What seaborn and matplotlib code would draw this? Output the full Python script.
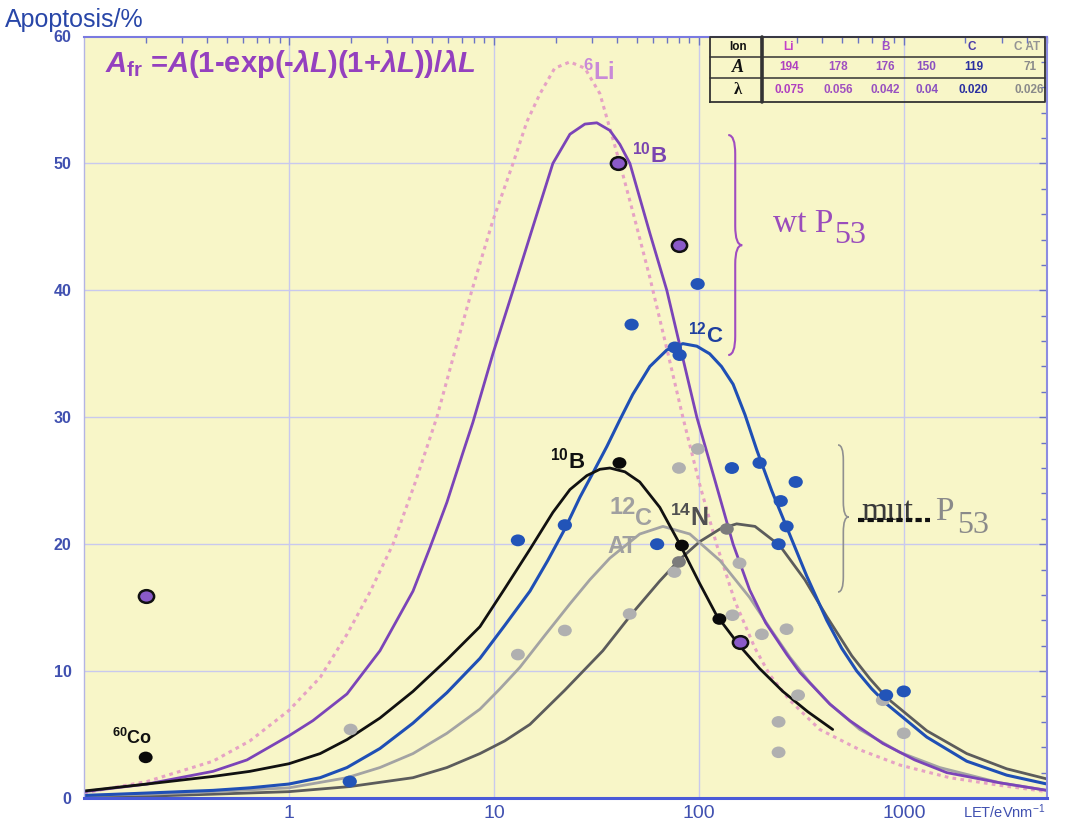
import numpy as np
import pandas as pd
import matplotlib
matplotlib.use("Agg")
import matplotlib.pyplot as plt
from matplotlib.path import Path
from matplotlib.patches import PathPatch
import seaborn as sns

# ---------------- data ----------------
# fitted curves: LET (eV/nm) and apoptosis (%)
wt_b_fit_let = [0.1, 0.203, 0.426, 0.624, 1.0, 1.31, 1.92, 2.78, 4.03, 4.87, 5.90, 7.06, 7.90, 9.89, 12.4, 15.5,
                19.4, 23.5, 27.8, 31.8, 36.8, 41.2, 46.1, 57.7, 69.8, 82.6, 97.8, 120, 147, 177, 212, 269, 311,
                436, 545, 790, 1131, 1621, 2940, 5000]
wt_b_fit_apo = [0.5, 1.1, 2.1, 3.0, 4.9, 6.1, 8.2, 11.6, 16.3, 19.7, 23.3, 27.2, 29.6, 35.0, 40.0, 45.0,
                50.0, 52.3, 53.1, 53.2, 52.6, 51.5, 50.0, 44.5, 40.0, 35.0, 30.0, 25.0, 20.0, 16.4, 13.8, 11.3, 9.9,
                7.4, 6.1, 4.3, 3.0, 2.0, 1.2, 0.6]

li_fit_let = [0.1, 0.203, 0.426, 0.645, 1.0, 1.42, 1.92, 2.48, 3.22, 4.12, 5.27, 6.45, 7.81, 9.89, 12.4, 14.5,
              16.8, 19.8, 23.5, 27.8, 32.9, 41.2, 48.7, 57.7, 69.8, 83.6, 101, 122, 150, 188, 222, 278, 389, 610,
              956, 1676, 2940, 5000]
li_fit_apo = [0.4, 1.3, 2.9, 4.5, 6.9, 9.5, 12.9, 16.2, 20.0, 24.8, 30.0, 35.2, 40.0, 45.5, 50.0, 53.3,
              55.5, 57.5, 58.0, 57.5, 55.5, 50.0, 45.6, 41.0, 35.4, 30.0, 24.7, 20.0, 15.5, 11.8, 9.7, 7.7, 5.4, 3.8,
              2.6, 1.6, 1.0, 0.5]

wt_c_fit_let = [0.1, 0.21, 0.426, 0.645, 1.0, 1.42, 1.92, 2.78, 4.03, 5.90, 8.55, 11.3, 15.0, 18.3, 22.2, 26.3,
                30.4, 35.6, 41.2, 47.6, 57.7, 69.8, 83.6, 97.8, 113, 129, 147, 168, 192, 227, 269, 336, 421, 498,
                590, 698, 826, 1295, 2029, 3180, 5000]
wt_c_fit_apo = [0.2, 0.4, 0.6, 0.8, 1.1, 1.6, 2.4, 3.9, 5.9, 8.3, 11.0, 13.6, 16.3, 18.7, 21.2, 23.7,
                25.6, 27.7, 29.8, 31.8, 34.0, 35.3, 35.8, 35.6, 35.0, 34.0, 32.6, 30.2, 27.4, 24.2, 21.3, 17.5, 14.0, 11.8,
                10.0, 8.6, 7.4, 4.8, 2.9, 1.8, 1.1]

mut_b_fit_let = [0.1, 0.203, 0.426, 0.645, 1.0, 1.42, 1.92, 2.78, 4.03, 5.90, 8.55, 11.3, 15.0, 19.4, 23.5,
                 28.4, 32.9, 36.8, 43.6, 51.5, 64.5, 80.8, 101, 122, 158, 198, 257, 340, 450]
mut_b_fit_apo = [0.55, 1.1, 1.7, 2.1, 2.7, 3.5, 4.6, 6.3, 8.4, 10.9, 13.5, 16.5, 19.6, 22.5, 24.3,
                 25.4, 25.9, 26.0, 25.7, 24.9, 22.9, 20.0, 16.9, 14.4, 12.0, 10.2, 8.4, 6.8, 5.4]

mut_cat_fit_let = [0.1, 0.21, 0.426, 1.0, 1.92, 2.78, 4.03, 5.90, 8.55, 10.7, 13.4, 17.7, 23.5, 29.4, 36.8,
                   51.5, 66.8, 90.4, 127, 177, 222, 278, 348, 436, 610, 956, 1498, 2940, 5000]
mut_cat_fit_apo = [0.2, 0.3, 0.5, 0.8, 1.6, 2.4, 3.5, 5.1, 7.0, 8.6, 10.3, 12.8, 15.3, 17.2, 18.9,
                   20.8, 21.4, 20.8, 18.7, 15.8, 13.4, 11.1, 9.1, 7.4, 5.4, 3.6, 2.4, 1.2, 0.6]

mut_n_fit_let = [0.1, 0.21, 0.426, 1.0, 1.98, 4.03, 5.90, 8.55, 11.3, 15.0, 22.2, 34.0, 47.6, 64.5, 80.8,
                 101, 127, 153, 188, 248, 329, 421, 558, 683, 826, 1295, 2029, 3180, 5000]
mut_n_fit_apo = [0.05, 0.15, 0.3, 0.5, 0.9, 1.6, 2.4, 3.5, 4.5, 5.8, 8.5, 11.6, 14.6, 17.1, 18.8,
                 20.2, 21.2, 21.6, 21.4, 19.9, 17.2, 14.3, 11.2, 9.4, 7.9, 5.3, 3.5, 2.3, 1.5]

# measured points
wt_b_pts_let = [0.2, 40.3, 80, 158]
wt_b_pts_apo = [15.9, 50.0, 43.6, 12.3]

mut_b_pts_let = [0.2, 41, 82.7, 126]
mut_b_pts_apo = [3.2, 26.4, 19.9, 14.1]

wt_c_pts_let = [1.98, 13.1, 22.2, 47, 76.3, 80.6, 98.7, 62.6, 145, 198, 251, 268, 297, 245, 820, 1000]
wt_c_pts_apo = [1.3, 20.3, 21.5, 37.3, 35.5, 34.9, 40.5, 20.0, 26.0, 26.4, 23.4, 21.4, 24.9, 20.0, 8.1, 8.4]

mut_cat_pts_let = [2.0, 13.1, 22.2, 46, 76, 80, 99, 146, 158, 203, 245, 245, 268, 305, 790, 1000]
mut_cat_pts_apo = [5.4, 11.3, 13.2, 14.5, 17.8, 26.0, 27.5, 14.4, 18.5, 12.9, 6.0, 3.6, 13.3, 8.1, 7.7, 5.1]

mut_n_pts_let = [80, 137]
mut_n_pts_apo = [18.6, 21.2]

# axis ticks
x_ticks = [1, 10, 100, 1000]
x_tick_labels = ["1", "10", "100", "1000"]
y_ticks = [0, 10, 20, 30, 40, 50, 60]
y_tick_labels = ["0", "10", "20", "30", "40", "50", "60"]

# fit-parameter table
table_ions = ["Li", "B", "C", "C AT"]
table_A = ["194", "178", "176", "150", "119", "71"]
table_lambda = ["0.075", "0.056", "0.042", "0.04", "0.020", "0.026"]

# ---------------- style ----------------
sns.set_theme(style="white")
plt.rcParams['font.family'] = ['Liberation Sans', 'DejaVu Sans']
plt.rcParams['mathtext.fontset'] = 'custom'
plt.rcParams['mathtext.rm'] = 'Liberation Sans:bold'
plt.rcParams['mathtext.it'] = 'Liberation Sans:bold:italic'
plt.rcParams['mathtext.bf'] = 'Liberation Sans:bold'

W, H = 1066, 823
fig = plt.figure(figsize=(W / 100, H / 100), dpi=100)
fig.patch.set_facecolor("white")
left_px, right_px, top_px, bot_px = 84, 1047, 36.5, 798
ax = fig.add_axes([left_px / W, 1 - bot_px / H, (right_px - left_px) / W, (bot_px - top_px) / H])
ax.set_facecolor("#f8f6c8")

ax.set_xscale("log")
ax.set_xlim(0.1, 5000)
ax.set_ylim(0, 60)

# grid
for v in x_ticks:
    ax.axvline(v, color="#c9c9ee", lw=1.0, zorder=0)
for v in y_ticks[1:-1]:
    ax.axhline(v, color="#c9c9ee", lw=1.0, zorder=0)

# curves
curves = [
    (li_fit_let, li_fit_apo, "#e6a2c4", (0, (1.2, 1.4)), 2.2),
    (mut_n_fit_let, mut_n_fit_apo, "#5c5c5c", "-", 2.0),
    (mut_cat_fit_let, mut_cat_fit_apo, "#a3a3a3", "-", 2.0),
    (wt_c_fit_let, wt_c_fit_apo, "#1f4fb5", "-", 2.2),
    (wt_b_fit_let, wt_b_fit_apo, "#7b44b8", "-", 2.0),
    (mut_b_fit_let, mut_b_fit_apo, "#111111", "-", 2.0),
]
for L, A, c, ls, lw in curves:
    sns.lineplot(x=L, y=A, ax=ax, color=c, linestyle=ls, linewidth=lw,
                 estimator=None, sort=False, zorder=2)

# points (slightly wide ellipse markers)
circ = Path.unit_circle()
ell = Path(circ.vertices * np.array([1.2, 1.0]), circ.codes)

pts = [
    (mut_cat_pts_let, mut_cat_pts_apo, "#b0b0b0", "none", 0, 100),
    (mut_n_pts_let, mut_n_pts_apo, "#7c7c7c", "none", 0, 100),
    (wt_c_pts_let, wt_c_pts_apo, "#2254b8", "none", 0, 105),
    (mut_b_pts_let, mut_b_pts_apo, "#0a0a0a", "none", 0, 100),
    (wt_b_pts_let, wt_b_pts_apo, "#8a5ac8", "#111111", 1.8, 120),
]
for L, A, c, ec, elw, s in pts:
    sns.scatterplot(x=L, y=A, ax=ax, marker=ell, s=s, color=c, edgecolor=ec,
                    linewidth=elw, zorder=3, legend=False)

# ticks
tick_col = "#4050b0"
ax.set_xticks(x_ticks)
ax.set_xticklabels(x_tick_labels)
ax.set_yticks(y_ticks)
ax.set_yticklabels(y_tick_labels)
ax.yaxis.set_minor_locator(matplotlib.ticker.MultipleLocator(2))
ax.xaxis.set_minor_locator(matplotlib.ticker.LogLocator(base=10, subs=np.arange(2, 10)))
ax.xaxis.set_minor_formatter(matplotlib.ticker.NullFormatter())
ax.tick_params(axis="both", which="both", direction="in", top=True, right=True,
               color="#6a74c4", width=1.0)
ax.tick_params(axis="both", which="major", length=6)
ax.tick_params(axis="both", which="minor", length=4)
ax.tick_params(axis="x", which="major", labelsize=14, labelcolor=tick_col, pad=5)
ax.tick_params(axis="y", which="major", labelsize=11.5, labelcolor=tick_col, pad=9)
for lab in ax.get_yticklabels():
    lab.set_fontweight("bold")
ax.set_xlabel("")
ax.set_ylabel("")

for side, col, lw in [("top", "#7a7ae0", 1.5), ("right", "#8c8ce0", 1.5),
                      ("bottom", "#4a5ad8", 2.2), ("left", "#b4b4e4", 1.0)]:
    ax.spines[side].set_visible(True)
    ax.spines[side].set_color(col)
    ax.spines[side].set_linewidth(lw)

# axis titles
fig.text(5 / W, 1 - 27 / H, "Apoptosis/%", fontsize=18, color="#2846a8", ha="left", va="baseline")
fig.text(1045 / W, 1 - 812 / H, "LET/eVnm$^{\\mathregular{-1}}$", fontsize=10.5, color=tick_col,
         ha="right", va="center")

# formula
ax.text(0.022, 0.953, r"$A_{\mathrm{fr}}$ =$A$(1-exp(-$\lambda L$)(1+$\lambda L$))/$\lambda L$",
        transform=ax.transAxes, fontsize=21, fontweight="bold", color="#9440bf",
        ha="left", va="baseline", zorder=5)

# ion labels
lab_kw = dict(fontweight="bold", ha="left", va="center", zorder=5)
ax.text(27.2, 57.2, r"$^{6}$Li", fontsize=17, color="#c98ad8", **lab_kw)
ax.text(47.0, 50.7, r"$^{10}$B", fontsize=16, color="#7a44b0", **lab_kw)
ax.text(88.4, 36.5, r"$^{12}$C", fontsize=16, color="#1f3f9f", **lab_kw)
ax.text(18.7, 26.6, r"$^{10}$B", fontsize=16, color="#111111", **lab_kw)
ax.text(36.7, 22.9, "12", fontsize=17, color="#a0a0a0", **lab_kw)
ax.text(48.9, 22.0, "C", fontsize=17, color="#a0a0a0", **lab_kw)
ax.text(36.0, 19.8, "AT", fontsize=17, color="#a0a0a0", **lab_kw)
ax.text(72.0, 22.1, r"$^{14}$N", fontsize=18, color="#505050", **lab_kw)
ax.text(0.137, 4.7, r"$^{60}$Co", fontsize=13, color="#111111", **lab_kw)

# wt / mut P53 labels
ser = dict(family=["Liberation Serif", "DejaVu Serif"], ha="left", va="baseline", zorder=5)
ax.text(229, 44.6, "wt P", fontsize=24, color="#9a4cbc", **ser)
ax.text(457, 43.7, "53", fontsize=23, color="#9a4cbc", **ser)
ax.text(624, 21.9, "mut", fontsize=24, color="#3a3a3a", **ser)
ax.text(1418, 21.9, "P", fontsize=24, color="#8a8a8a", **ser)
ax.text(1818, 20.9, "53", fontsize=23, color="#8a8a8a", **ser)
ax.plot([0.804, 0.878], [0.365, 0.365], transform=ax.transAxes, color="#111111",
        lw=3, linestyle=(0, (1.5, 0.8)), solid_capstyle="round", zorder=6)


# braces
def brace(x0, yt, yb, ym, w, color, lw, r=0.025):
    xm = x0 + w * 0.5
    verts = [(x0, yt), (xm, yt), (xm, yt - r),
             (xm, ym + r), (xm, ym), (x0 + w, ym),
             (xm, ym), (xm, ym - r),
             (xm, yb + r), (xm, yb), (x0, yb)]
    codes = [Path.MOVETO, Path.CURVE3, Path.CURVE3, Path.LINETO, Path.CURVE3, Path.CURVE3,
             Path.CURVE3, Path.CURVE3, Path.LINETO, Path.CURVE3, Path.CURVE3]
    ax.add_patch(PathPatch(Path(verts, codes), transform=ax.transAxes, fill=False,
                           ec=color, lw=lw, clip_on=False, zorder=5))


brace(0.669, 0.8706, 0.5817, 0.726, 0.0145, "#a04cc0", 1.5)
brace(0.783, 0.4636, 0.2705, 0.369, 0.011, "#909090", 1.2, r=0.02)

# table of fit parameters
tb = dict(transform=ax.transAxes, clip_on=False, zorder=6)
x0t, x1t, y0t, y1t = 0.650, 0.998, 0.914, 1.0
border = "#333333"
ax.plot([x0t, x1t, x1t, x0t, x0t], [y0t, y0t, y1t, y1t, y0t], color=border, lw=1.3, **tb)
for yy in [0.973, 0.9455]:
    ax.plot([x0t, x1t], [yy, yy], color=border, lw=1.1, **tb)
ax.plot([0.704, 0.704], [y0t, y1t], color=border, lw=2.6, **tb)

row_y = [0.9865, 0.9595, 0.930]
ttxt = dict(transform=ax.transAxes, ha="center", va="center", fontsize=8.5,
            fontweight="bold", zorder=7)
ax.text(0.679, row_y[0], "Ion", color="#111111", **ttxt)
ax.text(0.679, row_y[1], "A", color="#111111", transform=ax.transAxes, ha="center", va="center",
        fontsize=13, fontweight="bold", style="italic", family=["Liberation Serif", "DejaVu Serif"], zorder=7)
ax.text(0.679, row_y[2], "λ", color="#111111", transform=ax.transAxes, ha="center", va="center",
        fontsize=12, fontweight="bold", family=["Liberation Serif", "DejaVu Serif"], zorder=7)

head_x = [0.732, 0.832, 0.922, 0.979]
head_c = ["#c440c8", "#a050c8", "#4a3aa8", "#949494"]
for xx, t, c in zip(head_x, table_ions, head_c):
    ax.text(xx, row_y[0], t, color=c, **ttxt)

col_x = [0.732, 0.783, 0.832, 0.875, 0.924, 0.982]
col_c = ["#b040c0", "#a050c0", "#9850c0", "#8a50c0", "#2a30a0", "#8a8a8a"]
for xx, a, lam, c in zip(col_x, table_A, table_lambda, col_c):
    ax.text(xx, row_y[1], a, color=c, **ttxt)
    ax.text(xx, row_y[2], lam, color=c, **ttxt)

fig.savefig("out.png", dpi=100, facecolor="white")
